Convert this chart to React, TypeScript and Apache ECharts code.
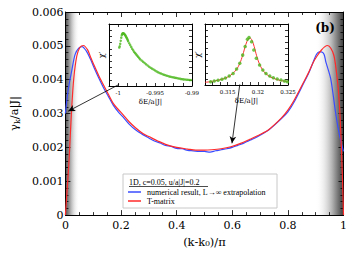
import React, { useEffect, useRef } from "react";
import * as echarts from "echarts";

// Main panel: T-matrix (red)
const RED_K = [0, 0.005, 0.013, 0.022, 0.03, 0.041, 0.052, 0.065, 0.08, 0.09, 0.104, 0.12, 0.138, 0.155, 0.172, 0.19, 0.207, 0.23, 0.252, 0.28, 0.3, 0.332, 0.36, 0.4, 0.44, 0.469, 0.5, 0.526, 0.56, 0.595, 0.63, 0.663, 0.7, 0.732, 0.777, 0.8, 0.823, 0.857, 0.875, 0.891, 0.905, 0.92, 0.932, 0.943, 0.955, 0.966, 0.975, 0.983, 0.99, 0.994, 0.997, 1];
const RED_G = [0, 0.0006, 0.0016, 0.00307, 0.00403, 0.0047, 0.00495, 0.00501, 0.00488, 0.00468, 0.00441, 0.00412, 0.00383, 0.00356, 0.0033, 0.00312, 0.00297, 0.00275, 0.00258, 0.0024, 0.00232, 0.00219, 0.00209, 0.002, 0.00195, 0.00192, 0.00192, 0.00193, 0.00196, 0.00202, 0.00212, 0.00224, 0.00238, 0.00253, 0.00287, 0.0031, 0.0034, 0.00393, 0.00422, 0.00451, 0.0047, 0.00487, 0.00497, 0.00501, 0.00492, 0.0047, 0.0042, 0.00354, 0.0025, 0.0016, 0.0009, 0];

// Main panel: numerical result (blue)
const BLUE_K = [0, 0.01, 0.024, 0.035, 0.048, 0.06, 0.075, 0.09, 0.104, 0.12, 0.138, 0.155, 0.172, 0.19, 0.207, 0.23, 0.252, 0.28, 0.3, 0.32, 0.34, 0.36, 0.38, 0.4, 0.42, 0.44, 0.46, 0.48, 0.5, 0.52, 0.54, 0.56, 0.58, 0.6, 0.62, 0.64, 0.66, 0.68, 0.7, 0.732, 0.777, 0.8, 0.823, 0.857, 0.875, 0.891, 0.903, 0.913, 0.92, 0.93, 0.937, 0.945, 0.954, 0.962, 0.971, 0.98, 0.99, 1];
const BLUE_G = [0.003, 0.0037, 0.00432, 0.00475, 0.00493, 0.00498, 0.00485, 0.00461, 0.00434, 0.00405, 0.00375, 0.0035, 0.00325, 0.00305, 0.0029, 0.00268, 0.00252, 0.00237, 0.00228, 0.00219, 0.00213, 0.00206, 0.00203, 0.00197, 0.00196, 0.00191, 0.0019, 0.00188, 0.00188, 0.00186, 0.0019, 0.00193, 0.00196, 0.002, 0.00206, 0.00212, 0.0022, 0.00227, 0.00236, 0.00252, 0.00285, 0.00305, 0.00335, 0.0039, 0.0042, 0.00452, 0.00475, 0.00482, 0.00482, 0.00475, 0.00451, 0.0043, 0.00403, 0.0036, 0.00306, 0.0026, 0.0022, 0.00188];

// Inset 1: chi' near band bottom
const INS1_E = [-0.99986, -0.9998, -0.99973, -0.99966, -0.99959, -0.99952, -0.99946, -0.99939, -0.99932, -0.99925, -0.99919, -0.99912, -0.99905, -0.99898, -0.99892, -0.99885, -0.99878, -0.99871, -0.99865, -0.99851, -0.99838, -0.99824, -0.99811, -0.99797, -0.99784, -0.9977, -0.99757, -0.99743, -0.9973, -0.99716, -0.99703, -0.99682, -0.99662, -0.99642, -0.99622, -0.99601, -0.99581, -0.99561, -0.99541, -0.9952, -0.995, -0.9948, -0.99459, -0.99439, -0.99419, -0.99398, -0.99378, -0.99358, -0.99338, -0.99317, -0.99297, -0.99277, -0.99257, -0.99236, -0.99216, -0.99196, -0.99176, -0.99155, -0.99135, -0.99115, -0.99095, -0.99074, -0.99054, -0.99034, -0.99014];
const INS1_CHI = [0.62, 0.64, 0.68, 0.73, 0.78, 0.82, 0.84, 0.85, 0.85, 0.845, 0.84, 0.83, 0.82, 0.805, 0.79, 0.775, 0.76, 0.74, 0.72, 0.69, 0.66, 0.63, 0.6, 0.575, 0.55, 0.53, 0.51, 0.49, 0.47, 0.45, 0.43, 0.41, 0.39, 0.37, 0.35, 0.33, 0.31, 0.295, 0.28, 0.265, 0.25, 0.235, 0.22, 0.21, 0.2, 0.19, 0.18, 0.172, 0.165, 0.157, 0.15, 0.145, 0.14, 0.135, 0.13, 0.125, 0.12, 0.115, 0.11, 0.107, 0.105, 0.102, 0.1, 0.097, 0.095];

// Inset 2: chi' near 0.32 (points + T-matrix line)
const INS2_E = [0.31219, 0.31278, 0.31341, 0.31405, 0.31463, 0.31526, 0.3159, 0.31648, 0.31701, 0.31749, 0.3179, 0.31828, 0.31854, 0.31897, 0.31934, 0.31976, 0.32029, 0.32083, 0.32135, 0.32198, 0.32257, 0.32321, 0.32384, 0.32441, 0.32489];
const INS2_CHI = [0.054, 0.066, 0.077, 0.093, 0.115, 0.148, 0.19, 0.262, 0.355, 0.49, 0.63, 0.75, 0.78, 0.71, 0.574, 0.437, 0.328, 0.246, 0.19, 0.148, 0.12, 0.098, 0.082, 0.066, 0.054];
const FIT2_E = [0.31125, 0.312, 0.313, 0.314, 0.315, 0.3158, 0.3165, 0.317, 0.3175, 0.318, 0.3184, 0.3187, 0.319, 0.3194, 0.3198, 0.3203, 0.321, 0.3218, 0.3226, 0.3235, 0.3243, 0.325];
const FIT2_CHI = [0.045, 0.052, 0.07, 0.092, 0.13, 0.185, 0.26, 0.35, 0.49, 0.66, 0.75, 0.77, 0.74, 0.63, 0.48, 0.34, 0.22, 0.15, 0.11, 0.08, 0.065, 0.058];

// Arrows (data coordinates of main panel): [fromK, fromG, toK, toG]
const ARROWS = [
  [0.193, 0.00386, 0.01, 0.00307],
  [0.627, 0.00386, 0.599, 0.00212],
];

const SHADED = [
  [0, 0.05, "left"],
  [0.9, 1, "right"],
];

const LEGEND_TITLE = "1D, c=0.05, u/a|J|=0.2";
const NAME_BLUE = "numerical result, L\u2192\u221e extrapolation";
const NAME_RED = "T-matrix";

const zip = (a: number[], b: number[]) => a.map((v, i) => [v, b[i]]);

const SERIF = "DejaVu Serif";
const SERIF2 = "Liberation Serif";

function frameAxes(grid: number, min: number, max: number, interval: number, dim: "x" | "y", opts: any) {
  const common = {
    gridIndex: grid,
    type: "value",
    min,
    max,
    interval,
    splitLine: { show: false },
    axisLine: { show: true, onZero: false, lineStyle: { color: "#000", width: 1 } },
    axisTick: { show: true, inside: true, length: opts.tickLen, lineStyle: { color: "#000", width: 0.8 } },
    minorTick: opts.minor
      ? { show: true, splitNumber: opts.minor, length: opts.tickLen * 0.6, lineStyle: { color: "#000", width: 0.8 } }
      : { show: false },
  };
  const primary = {
    ...common,
    position: dim === "x" ? "bottom" : "left",
    axisLabel: opts.label,
    name: opts.name,
    nameLocation: "middle",
    nameGap: opts.nameGap,
    nameTextStyle: opts.nameStyle,
  };
  const mirror = {
    ...common,
    position: dim === "x" ? "top" : "right",
    axisLabel: { show: false },
  };
  return [primary, mirror];
}

export default function App() {
  const ref = useRef<HTMLDivElement>(null);
  useEffect(() => {
    if (!ref.current) return;
    const chart = echarts.init(ref.current, null, { renderer: "svg" });

    const insetLabel = (v: number) => {
      const q = v / 0.005;
      if (Math.abs(q - Math.round(q)) > 1e-4) return "";
      const r = Math.round(v * 1000) / 1000;
      return String(r);
    };

    const [x0, x1] = frameAxes(0, 0, 1, 0.2, "x", {
      tickLen: 5,
      minor: 4,
      label: {
        color: "#000",
        fontFamily: SERIF,
        fontSize: 11,
        margin: 5,
        formatter: (v: number) => String(Math.round(v * 10) / 10),
      },
      name: "(k-k\u2080)/\u03c0",
      nameGap: 19,
      nameStyle: { color: "#000", fontFamily: SERIF, fontSize: 11.5 },
    });
    const [y0, y1] = frameAxes(0, 0, 0.006, 0.001, "y", {
      tickLen: 5,
      minor: 5,
      label: {
        color: "#000",
        fontFamily: SERIF,
        fontSize: 11,
        margin: 2,
        formatter: (v: number) => (v === 0 ? "0" : v.toFixed(3)),
      },
      name: "{g|\u03b3}{s|k}{g|/a|J|}",
      nameGap: 39,
      nameStyle: {
        color: "#000",
        fontFamily: SERIF,
        fontSize: 11.5,
        rich: {
          g: { fontFamily: SERIF, fontSize: 11.5, color: "#000" },
          s: { fontFamily: SERIF, fontSize: 8, color: "#000", padding: [6, 0, 0, 0] },
        },
      },
    });

    const insetAxes = (grid: number, min: number, max: number) => {
      const [bx, tx] = frameAxes(grid, min, max, 0.00125, "x", {
        tickLen: 3,
        minor: 0,
        label: { color: "#000", fontFamily: SERIF, fontSize: 5.5, margin: 4, formatter: insetLabel, showMinLabel: false },
        name: "\u03b4E/a|J|",
        nameGap: 12,
        nameStyle: { color: "#000", fontFamily: SERIF, fontSize: 7 },
      });
      const [ly, ry] = frameAxes(grid, 0, 1, 0.1, "y", {
        tickLen: 3,
        minor: 0,
        label: { show: false },
        name: "\u03c7\u2032",
        nameGap: 4,
        nameStyle: { color: "#000", fontFamily: SERIF, fontSize: 8 },
      });
      return { xs: [bx, tx], ys: [ly, ry] };
    };
    const i1 = insetAxes(1, -1.00125, -0.99);
    const i2 = insetAxes(2, 0.31125, 0.325);

    const gradLeft = new echarts.graphic.LinearGradient(0, 0, 1, 0, [
      { offset: 0, color: "#505050" },
      { offset: 0.35, color: "#a8a8a8" },
      { offset: 1, color: "rgba(255,255,255,0)" },
    ]);
    const gradRight = new echarts.graphic.LinearGradient(0, 0, 1, 0, [
      { offset: 0, color: "rgba(255,255,255,0)" },
      { offset: 0.6, color: "#b0b0b0" },
      { offset: 1, color: "#3c3c3c" },
    ]);

    const option: any = {
      animation: false,
      backgroundColor: "#fff",
      grid: [
        { left: 53, top: 12, width: 292, height: 207 },
        { left: 109, top: 24, width: 83, height: 62, show: true, backgroundColor: "#fff", borderWidth: 0 },
        { left: 205, top: 24, width: 83, height: 61, show: true, backgroundColor: "#fff", borderWidth: 0 },
      ],
      xAxis: [x0, x1, ...i1.xs, ...i2.xs],
      yAxis: [y0, y1, ...i1.ys, ...i2.ys],
      legend: {
        orient: "vertical",
        left: 128,
        top: 188,
        itemWidth: 13,
        itemHeight: 1.5,
        itemGap: 1,
        padding: 0,
        icon: "rect",
        data: [NAME_BLUE, NAME_RED],
        textStyle: { fontFamily: SERIF2, fontSize: 8, color: "#000", padding: [0, 0, 0, 1] },
      },
      graphic: [
        {
          type: "rect",
          shape: { x: 123, y: 174, width: 154, height: 34 },
          style: { fill: "#fff", stroke: "#c8c8c8", lineWidth: 1 },
          z: 1,
          silent: true,
        },
        {
          type: "text",
          x: 129,
          y: 178,
          style: { text: LEGEND_TITLE, fontFamily: SERIF2, fontSize: 8, fill: "#000" },
          z: 2,
        },
        {
          type: "line",
          shape: { x1: 129, y1: 186.5, x2: 208, y2: 186.5 },
          style: { stroke: "#000", lineWidth: 0.7 },
          z: 2,
        },
        {
          type: "text",
          x: 325,
          y: 28,
          style: { text: "(b)", fontFamily: SERIF, fontSize: 12, fontWeight: "bold", fill: "#000", align: "center", verticalAlign: "middle" },
          z: 3,
        },
      ],
      series: [
        {
          name: NAME_BLUE,
          type: "line",
          xAxisIndex: 0,
          yAxisIndex: 0,
          data: zip(BLUE_K, BLUE_G),
          symbol: "none",
          smooth: 0.3,
          lineStyle: { color: "#3a4cff", width: 1.2 },
          itemStyle: { color: "#3a4cff" },
          z: 3,
          markArea: {
            silent: true,
            z: 0,
            data: SHADED.map((s) => [
              { xAxis: s[0], itemStyle: { color: s[2] === "left" ? gradLeft : gradRight } },
              { xAxis: s[1] },
            ]),
          },
          markLine: {
            silent: true,
            symbol: ["none", "arrow"],
            symbolSize: [5, 7],
            label: { show: false },
            lineStyle: { color: "#000", width: 0.8, type: "solid" },
            data: ARROWS.map((a) => [{ coord: [a[0], a[1]] }, { coord: [a[2], a[3]] }]),
            z: 10,
          },
        },
        {
          name: NAME_RED,
          type: "line",
          xAxisIndex: 0,
          yAxisIndex: 0,
          data: zip(RED_K, RED_G),
          symbol: "none",
          smooth: 0.3,
          lineStyle: { color: "#ff2a2a", width: 1.2 },
          itemStyle: { color: "#ff2a2a" },
          z: 4,
        },
        {
          name: "inset1",
          type: "scatter",
          xAxisIndex: 2,
          yAxisIndex: 2,
          data: zip(INS1_E, INS1_CHI),
          symbolSize: 2.5,
          itemStyle: { color: "#4cb81e" },
        },
        {
          name: "inset2fit",
          type: "line",
          xAxisIndex: 4,
          yAxisIndex: 4,
          data: zip(FIT2_E, FIT2_CHI),
          symbol: "none",
          smooth: 0.4,
          lineStyle: { color: "#ff3030", width: 1 },
        },
        {
          name: "inset2",
          type: "scatter",
          xAxisIndex: 4,
          yAxisIndex: 4,
          data: zip(INS2_E, INS2_CHI),
          symbolSize: 3.5,
          itemStyle: { color: "#4cb81e" },
          z: 5,
        },
      ],
    };
    chart.setOption(option);
    return () => chart.dispose();
  }, []);
  return <div ref={ref} style={{ position: "fixed", left: 0, top: 0, width: 350, height: 253 }} />;
}
